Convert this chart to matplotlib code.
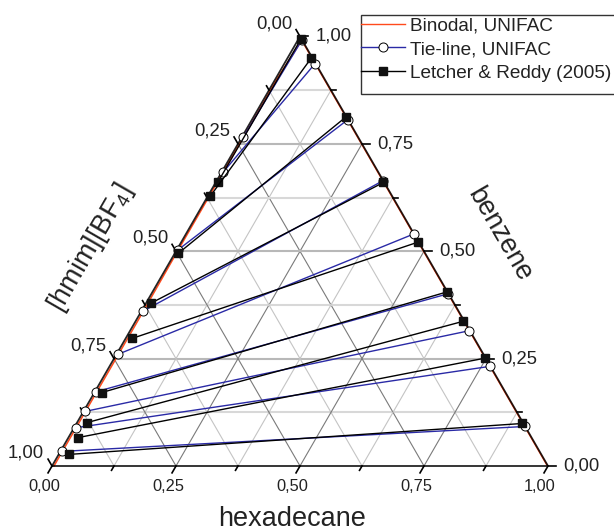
import numpy as np
import matplotlib.pyplot as plt
from matplotlib.lines import Line2D
from matplotlib.patches import Rectangle

plt.rcParams['font.family'] = ['Liberation Sans', 'DejaVu Sans']
plt.rcParams['mathtext.default'] = 'regular'

# mole fractions: hexadecane (h), benzene (b); IL = 1 - h - b
# Letcher & Reddy (2005), IL-rich and hexadecane-rich ends
exp_h_ils = [0.004, 0.005, 0.007, 0.010, 0.013, 0.015, 0.020, 0.019, 0.021]
exp_b_ils = [0.662, 0.628, 0.495, 0.379, 0.297, 0.171, 0.101, 0.066, 0.027]
exp_h_hex = [0.005, 0.048, 0.186, 0.338, 0.477, 0.593, 0.661, 0.747, 0.899]
exp_b_hex = [0.993, 0.950, 0.812, 0.660, 0.521, 0.405, 0.337, 0.251, 0.099]

# UNIFAC tie-lines
uni_h_ils = [0.003, 0.003, 0.003, 0.003, 0.003, 0.003, 0.003, 0.003, 0.003]
uni_b_ils = [0.766, 0.684, 0.504, 0.360, 0.260, 0.173, 0.127, 0.089, 0.034]
uni_h_hex = [0.008, 0.062, 0.193, 0.335, 0.459, 0.598, 0.684, 0.767, 0.907]
uni_b_hex = [0.991, 0.937, 0.806, 0.664, 0.540, 0.401, 0.315, 0.232, 0.092]

# UNIFAC binodal
bin_h = [0.004, 0.004, 0.004, 0.004, 0.004, 0.004, 0.004, 0.003, 0.003, 0.003, 0.003, 0.008,
         0.062, 0.193, 0.335, 0.459, 0.598, 0.684, 0.767, 0.907, 0.999]
bin_b = [0.000, 0.034, 0.089, 0.127, 0.173, 0.260, 0.360, 0.504, 0.684, 0.766, 0.900, 0.991,
         0.937, 0.806, 0.664, 0.540, 0.401, 0.315, 0.232, 0.092, 0.000]

ticks = [0.0, 0.25, 0.5, 0.75, 1.0]
tick_labels = ['0,00', '0,25', '0,50', '0,75', '1,00']

S3 = np.sqrt(3) / 2


def tern(h, b):
    h = np.asarray(h, float)
    b = np.asarray(b, float)
    return h + b / 2, b * S3


fig = plt.figure(figsize=(6.14, 5.32), dpi=100)
ax = fig.add_axes([0, 0, 1, 1])
ax.set_xlim(-52 / 496, 562 / 496)
ax.set_ylim(-66 / 496, 466 / 496)
ax.axis('off')

# grid
for k in np.arange(0.125, 1.0, 0.125):
    major = abs(k * 4 - round(k * 4)) < 1e-6
    # benzene = const (horizontal)
    x, y = tern([0, 1 - k], [k, k])
    ax.plot(x, y, color='#b8b8b8' if major else '#d8d8d8', lw=1.5, zorder=1)
    # hexadecane = const
    x, y = tern([k, k], [0, 1 - k])
    ax.plot(x, y, color='#7a7a7a' if major else '#c4c4c4', lw=0.8, zorder=1)
    # IL = const
    x, y = tern([1 - k, 0], [0, 1 - k])
    ax.plot(x, y, color='#7a7a7a' if major else '#c4c4c4', lw=0.8, zorder=1)

# binodal
x, y = tern(bin_h, bin_b)
ax.plot(x, y, color='#ff4a1c', lw=1.1, zorder=3)

# frame
x, y = tern([0, 1, 0, 0], [0, 0, 1, 0])
ax.plot(x, y, color='black', lw=1.3, alpha=0.85, zorder=4, solid_joinstyle='miter')

# ticks
for k in np.arange(0, 1.0001, 0.125):
    ln = 0.016 if abs(k * 4 - round(k * 4)) < 1e-6 else 0.010
    x0, y0 = tern(k, 0)
    ax.plot([x0, x0 - 0.5 * ln], [y0, y0 - S3 * ln], color='black', lw=1.2, zorder=4)
    x0, y0 = tern(1 - k, k)
    ax.plot([x0, x0 + ln], [y0, y0], color='black', lw=1.2, zorder=4)
    x0, y0 = tern(0, 1 - k)
    ax.plot([x0, x0 - 0.5 * ln], [y0, y0 + S3 * ln], color='black', lw=1.2, zorder=4)

# tie-lines
for i in range(len(uni_b_ils)):
    x, y = tern([uni_h_ils[i], uni_h_hex[i]], [uni_b_ils[i], uni_b_hex[i]])
    ax.plot(x, y, color='#2a2aa6', lw=1.0, marker='o', ms=6.5, mfc='white',
            mec='black', mew=0.7, zorder=5)
for i in range(len(exp_b_ils)):
    x, y = tern([exp_h_ils[i], exp_h_hex[i]], [exp_b_ils[i], exp_b_hex[i]])
    ax.plot(x, y, color='black', lw=1.0, marker='s', ms=5.5, mfc='#111111',
            mec='#111111', zorder=6)

# tick labels
for k, lab in zip(ticks, tick_labels):
    x0, y0 = tern(k, 0)
    ax.text(x0 - 0.016, -0.0423, lab, ha='center', va='center', fontsize=11.8, color='#222222')
    x0, y0 = tern(1 - k, k)
    ax.text(x0 + 0.031, y0, lab, ha='left', va='center', fontsize=13.3, color='#222222')
    x0, y0 = tern(0, 1 - k)
    ax.text(x0 - 0.016, y0 + 0.026, lab, ha='right', va='center', fontsize=13.3, color='#222222')

# axis titles
fig.text(292 / 614, 6 / 532, 'hexadecane', ha='center', va='baseline', fontsize=19.5,
         color='#222222')
ax.text(0.901, 0.4657, 'benzene', rotation=-60, ha='center', va='center',
        rotation_mode='anchor', fontsize=19.5, color='#222222')
ax.text(0.0786, 0.4400, '[hmim][BF$_4$]', rotation=60, ha='center', va='center',
        rotation_mode='anchor', fontsize=19.5, color='#222222')

# legend
fig.add_artist(Rectangle((361 / 614, 1 - 94 / 532), 300 / 614, 79 / 532,
                         transform=fig.transFigure, facecolor='white',
                         edgecolor='#333333', lw=1.0, zorder=2))
handles = [Line2D([], [], color='#ff4a1c', lw=1.0),
           Line2D([], [], color='#2a2aa6', lw=1.0, marker='o', ms=6.5, mfc='white',
                  mec='black', mew=0.7),
           Line2D([], [], color='black', lw=1.0, marker='s', ms=5.5, mfc='#111111',
                  mec='#111111')]
labels = ['Binodal, UNIFAC', 'Tie-line, UNIFAC', 'Letcher & Reddy (2005)']
leg = fig.legend(handles, labels, loc='upper left', bbox_to_anchor=(361 / 614, 1 - 17 / 532),
                 frameon=False, borderpad=0, borderaxespad=0, handlelength=2.3,
                 handletextpad=0.25, labelspacing=0.34, fontsize=13.7, numpoints=1)
for t in leg.get_texts():
    t.set_color('#222222')

fig.savefig('out.png', dpi=100)
